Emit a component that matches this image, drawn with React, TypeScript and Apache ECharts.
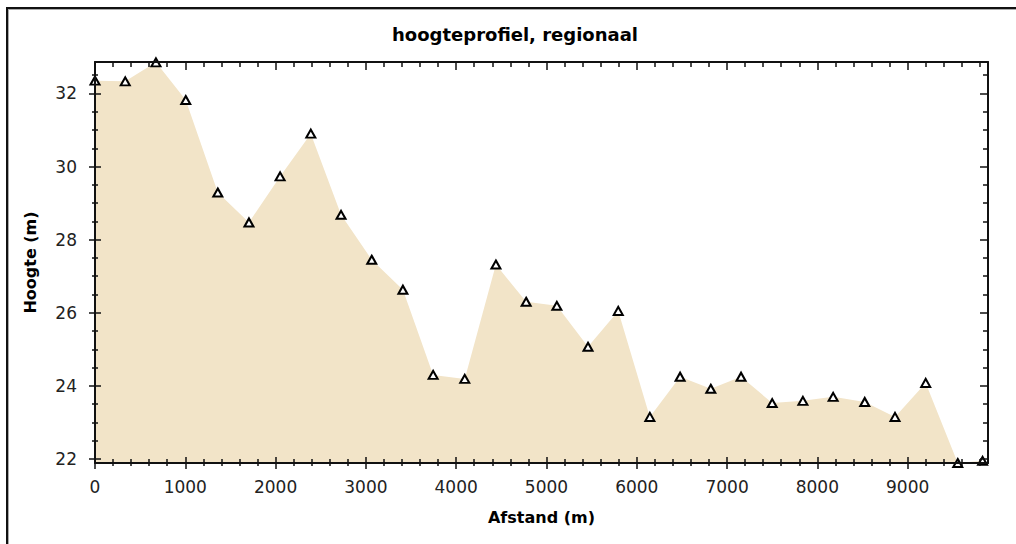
import React, { useEffect, useRef } from "react";
import * as echarts from "echarts";

const chartTitle = "hoogteprofiel, regionaal";
const xName = "Afstand (m)";
const yName = "Hoogte (m)";

const distances = [0, 335, 675, 1005, 1360, 1705, 2050, 2390, 2725, 3065, 3410, 3745, 4095, 4440, 4775, 5115, 5460, 5795, 6145, 6480, 6820, 7155, 7500, 7840, 8175, 8525, 8860, 9200, 9555, 9830];
const heights = [32.35, 32.33, 32.85, 31.82, 29.29, 28.47, 29.73, 30.9, 28.68, 27.45, 26.63, 24.3, 24.19, 27.32, 26.3, 26.19, 25.07, 26.05, 23.15, 24.25, 23.92, 24.25, 23.53, 23.59, 23.7, 23.56, 23.15, 24.08, 21.89, 21.95];

const xTickLabels = [0, 1000, 2000, 3000, 4000, 5000, 6000, 7000, 8000, 9000];
const yTickLabels = [22, 24, 26, 28, 30, 32];
const xMinorTicks = [200, 400, 600, 800, 1200, 1400, 1600, 1800, 2200, 2400, 2600, 2800, 3200, 3400, 3600, 3800, 4200, 4400, 4600, 4800, 5200, 5400, 5600, 5800, 6200, 6400, 6600, 6800, 7200, 7400, 7600, 7800, 8200, 8400, 8600, 8800, 9200, 9400, 9600, 9800];
const yMinorTicks = [22.5, 23, 23.5, 24.5, 25, 25.5, 26.5, 27, 27.5, 28.5, 29, 29.5, 30.5, 31, 31.5, 32.5];

const X_MIN = 0;
const X_MAX = 9890;
const Y_MIN = 21.89;
const Y_MAX = 32.86;

const FONT = "DejaVu Sans";
const INK = "#111";

export default function App() {
  const ref = useRef<HTMLDivElement>(null);

  useEffect(() => {
    if (!ref.current) return;
    const chart = echarts.init(ref.current, undefined, { renderer: "svg" });

    const tickAxis = (
      position: string,
      values: number[],
      inside: boolean,
      length: number,
      showLine: boolean,
      min: number,
      max: number
    ) => ({
      type: "value",
      position,
      min,
      max,
      z: 5,
      axisLine: { show: showLine, onZero: false, lineStyle: { color: INK, width: 2 } },
      axisTick: { show: true, inside, length, customValues: values, lineStyle: { color: INK, width: 1.5 } },
      axisLabel: { show: false },
      splitLine: { show: false },
    });

    const xMain = {
      type: "value",
      position: "bottom",
      min: X_MIN,
      max: X_MAX,
      z: 5,
      name: xName,
      nameLocation: "middle",
      nameGap: 46,
      nameTextStyle: { fontFamily: FONT, fontSize: 16, fontWeight: "bold", color: "#000" },
      axisLine: { show: true, onZero: false, lineStyle: { color: INK, width: 2 } },
      axisTick: { show: true, inside: false, length: 6, customValues: xTickLabels, lineStyle: { color: INK, width: 1.5 } },
      axisLabel: {
        show: true,
        customValues: xTickLabels,
        margin: 15,
        fontFamily: FONT,
        fontSize: 17,
        color: "#222",
        formatter: (v: number) => String(v),
      },
      splitLine: { show: false },
    };

    const yMain = {
      type: "value",
      position: "left",
      min: Y_MIN,
      max: Y_MAX,
      z: 5,
      name: yName,
      nameLocation: "middle",
      nameGap: 57,
      nameTextStyle: { fontFamily: FONT, fontSize: 16, fontWeight: "bold", color: "#000" },
      axisLine: { show: true, onZero: false, lineStyle: { color: INK, width: 2 } },
      axisTick: { show: true, inside: false, length: 6, customValues: yTickLabels, lineStyle: { color: INK, width: 1.5 } },
      axisLabel: {
        show: true,
        customValues: yTickLabels,
        margin: 18,
        fontFamily: FONT,
        fontSize: 17,
        color: "#222",
        formatter: (v: number) => String(v),
      },
      splitLine: { show: false },
    };

    chart.setOption({
      animation: false,
      grid: { left: 95, top: 62, right: 28, bottom: 81, containLabel: false },
      graphic: [
        {
          type: "text",
          x: 515,
          y: 34,
          style: {
            text: chartTitle,
            font: `bold 18px "${FONT}"`,
            fill: "#000",
            textAlign: "center",
            textVerticalAlign: "middle",
          },
        },
      ],
      xAxis: [
        xMain,
        tickAxis("bottom", xMinorTicks, false, 3, false, X_MIN, X_MAX),
        tickAxis("bottom", xTickLabels, true, 6, false, X_MIN, X_MAX),
        tickAxis("bottom", xMinorTicks, true, 4, false, X_MIN, X_MAX),
        tickAxis("top", xTickLabels, true, 8, true, X_MIN, X_MAX),
        tickAxis("top", xMinorTicks, true, 5, false, X_MIN, X_MAX),
      ],
      yAxis: [
        yMain,
        tickAxis("left", yMinorTicks, false, 3, false, Y_MIN, Y_MAX),
        tickAxis("left", yTickLabels, true, 6, false, Y_MIN, Y_MAX),
        tickAxis("left", yMinorTicks, true, 3, false, Y_MIN, Y_MAX),
        tickAxis("right", yTickLabels, true, 8, true, Y_MIN, Y_MAX),
        tickAxis("right", yMinorTicks, true, 5, false, Y_MIN, Y_MAX),
      ],
      series: [
        {
          type: "line",
          xAxisIndex: 0,
          yAxisIndex: 0,
          z: 2,
          data: distances.map((d, i) => [d, heights[i]]),
          symbol: "triangle",
          symbolSize: [9, 8],
          showAllSymbol: true,
          clip: false,
          lineStyle: { width: 0, opacity: 0 },
          itemStyle: { color: "#fff", borderColor: "#000", borderWidth: 2 },
          areaStyle: { color: "#F2E4C8", opacity: 1, origin: "start" },
          emphasis: { disabled: true },
        },
      ],
    });

    return () => chart.dispose();
  }, []);

  return (
    <div style={{ position: "fixed", left: 0, top: 0, width: 1016, height: 544, background: "#fff", overflow: "hidden" }}>
      <div
        style={{
          position: "absolute",
          left: 6,
          top: 7,
          width: 1016,
          height: 544,
          borderLeft: "2px solid #111",
          borderTop: "2px solid #111",
          boxSizing: "border-box",
        }}
      />
      <div
        style={{
          position: "absolute",
          left: 8,
          top: 9,
          width: 1016,
          height: 544,
          borderLeft: "1px solid #aaa",
          borderTop: "1px solid #aaa",
          boxSizing: "border-box",
        }}
      />
      <div ref={ref} style={{ position: "absolute", left: 0, top: 0, width: 1016, height: 544 }} />
    </div>
  );
}
